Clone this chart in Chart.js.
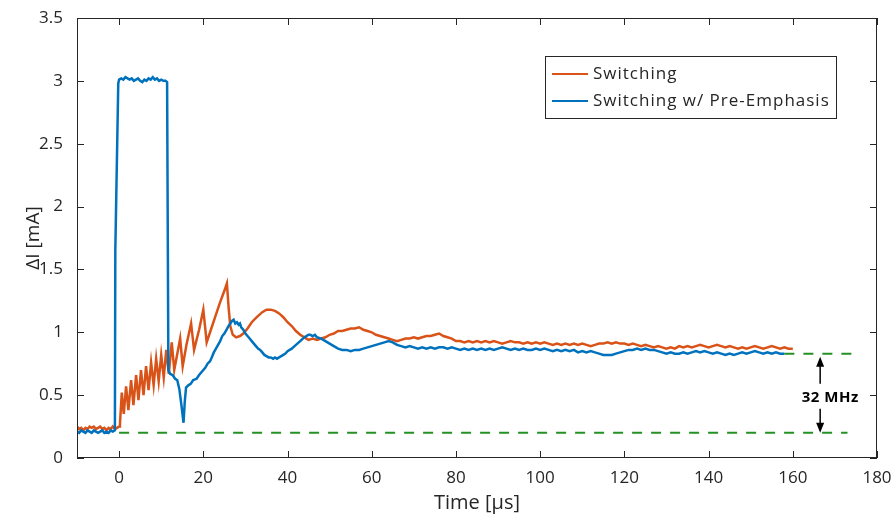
<!DOCTYPE html>
<html>
<head>
<meta charset="utf-8">
<title>Switching transient</title>
<script src="https://cdn.jsdelivr.net/npm/chart.js@4.4.1/dist/chart.umd.min.js"></script>
<style>
  html, body { margin: 0; padding: 0; background: #fff; }
</style>
</head>
<body>
<canvas id="chart" width="892" height="521"></canvas>
<script>
// time axis [us] and delta-I [mA]
const switchTime = [
  -10, -9.5, -9, -8.5, -8, -7.5, -7, -6.5, -6, -5.5, -5, -4.5, -4, -3.5, -3, -2.5, -2, -1.5, -1, -0.5, 0,
  0.2, 0.64, 1.1, 1.66, 2.2, 2.85, 3.4, 4.04, 4.6, 5.2, 5.8, 6.4, 7.0, 7.6, 8.2, 8.8, 9.4, 10.0, 10.6, 11.2, 11.8,
  12.5, 13.1, 14.5, 15.1, 16.0, 17.1, 17.8, 19.0, 20.0, 20.8, 21.8, 22.8, 24.0, 25.0, 25.6, 26.0, 26.4, 27.0, 27.8,
  28.7, 29.5, 30.5, 31.5, 32.7, 34, 35, 36, 37, 38, 39, 40, 41, 42, 43, 44, 45, 46, 47, 48, 49, 50,
  51, 52, 53, 54, 55, 56, 57, 58, 59, 60, 61, 62, 63, 64, 65, 66, 67, 68, 69, 70,
  71, 72, 73, 74, 75, 76, 77, 78, 79, 80, 81, 82, 83, 84, 85, 86, 87, 88, 89, 90,
  91, 92, 93, 94, 95, 96, 97, 98, 99, 100, 101, 102, 103, 104, 105, 106, 107, 108, 109, 110,
  111, 112, 113, 114, 115, 116, 117, 118, 119, 120, 121, 122, 123, 124, 125, 126, 127, 128, 129, 130,
  131, 132, 133, 134, 135, 136, 137, 138, 139, 140, 141, 142, 143, 144, 145, 146, 147, 148, 149, 150,
  151, 152, 153, 154, 155, 156, 157, 158, 159, 160
];
const switchValues = [
  0.25, 0.23, 0.24, 0.22, 0.24, 0.23, 0.25, 0.24, 0.25, 0.23, 0.24, 0.25, 0.23, 0.24, 0.22, 0.24, 0.23, 0.25, 0.23, 0.24, 0.25,
  0.27, 0.52, 0.35, 0.57, 0.38, 0.62, 0.42, 0.66, 0.46, 0.70, 0.50, 0.73, 0.54, 0.76, 0.58, 0.79, 0.61, 0.82, 0.64, 0.86, 0.67,
  0.92, 0.70, 0.95, 0.73, 0.90, 1.07, 0.86, 1.02, 1.18, 0.92, 1.02, 1.12, 1.24, 1.33, 1.39, 1.20, 1.05, 0.98, 0.96,
  0.97, 0.99, 1.03, 1.08, 1.12, 1.16, 1.18, 1.18, 1.17, 1.15, 1.12, 1.08, 1.05, 1.01, 0.98, 0.96, 0.94, 0.95, 0.94, 0.95, 0.96, 0.98,
  0.99, 1.01, 1.01, 1.02, 1.03, 1.03, 1.04, 1.02, 1.01, 1.00, 0.98, 0.97, 0.96, 0.95, 0.94, 0.93, 0.94, 0.95, 0.95, 0.96,
  0.95, 0.96, 0.97, 0.97, 0.98, 0.99, 0.97, 0.96, 0.95, 0.93, 0.93, 0.92, 0.93, 0.92, 0.93, 0.92, 0.93, 0.92, 0.93, 0.92,
  0.91, 0.92, 0.93, 0.92, 0.92, 0.91, 0.92, 0.91, 0.92, 0.91, 0.92, 0.91, 0.90, 0.91, 0.90, 0.91, 0.90, 0.91, 0.90, 0.91,
  0.90, 0.89, 0.90, 0.91, 0.91, 0.92, 0.91, 0.92, 0.91, 0.91, 0.90, 0.91, 0.90, 0.89, 0.90, 0.89, 0.88, 0.89, 0.88, 0.87,
  0.88, 0.87, 0.89, 0.88, 0.89, 0.88, 0.89, 0.90, 0.89, 0.88, 0.89, 0.90, 0.89, 0.88, 0.89, 0.88, 0.87, 0.88, 0.87, 0.88,
  0.89, 0.88, 0.87, 0.88, 0.89, 0.88, 0.87, 0.88, 0.87, 0.87
];

const preEmphTime = [
  -10, -9.5, -9, -8.5, -8, -7.5, -7, -6.5, -6, -5.5, -5, -4.5, -4, -3.5, -3, -2.5, -2, -1.5, -1.0, -0.9, -0.2, 0,
  0.5, 1, 1.5, 2, 2.5, 3, 3.5, 4, 4.5, 5, 5.5, 6, 6.5, 7, 7.5, 8, 8.5, 9, 9.5, 10, 10.5, 11, 11.4,
  11.7, 12.1, 12.7, 13.3, 13.8, 14.3, 14.8, 15.3, 15.6, 15.9, 16.5, 17, 17.6, 18.4, 19, 19.5, 20, 20.5, 21, 21.6,
  22, 22.5, 23, 23.5, 24, 24.5, 25, 25.5, 26, 26.4, 26.8, 27.2, 27.6, 28, 28.4, 28.7, 29, 29.5, 30, 30.5,
  31, 31.5, 32, 32.5, 33, 33.5, 34, 34.5, 35, 35.5, 36, 36.6, 37, 37.5, 38, 38.5, 39, 39.5, 40,
  41, 42, 43, 44, 45, 45.4, 46, 46.5, 47, 48, 49, 50, 51, 52, 53, 54, 55, 56, 57, 58, 59, 60,
  61, 62, 63, 64, 65, 66, 67, 68, 69, 70, 71, 72, 73, 74, 75, 76, 77, 78, 79, 80,
  81, 82, 83, 84, 85, 86, 87, 88, 89, 90, 91, 92, 93, 94, 95, 96, 97, 98, 99, 100,
  101, 102, 103, 104, 105, 106, 107, 108, 109, 110, 111, 112, 113, 114, 115, 116, 117, 118, 119, 120,
  121, 122, 123, 124, 125, 126, 127, 128, 129, 130, 131, 132, 133, 134, 135, 136, 137, 138, 139, 140,
  141, 142, 143, 144, 145, 146, 147, 148, 149, 150, 151, 152, 153, 154, 155, 156, 157, 158
];
const preEmphValues = [
  0.21, 0.20, 0.22, 0.21, 0.20, 0.22, 0.21, 0.20, 0.22, 0.21, 0.20, 0.21, 0.22, 0.20, 0.21, 0.20, 0.22, 0.21, 0.22, 1.65, 2.98, 3.01,
  3.02, 3.01, 3.03, 3.02, 3.01, 3.02, 3.00, 3.01, 3.02, 3.00, 2.99, 3.01, 3.00, 3.02, 3.01, 3.03, 3.01, 3.02, 3.00, 3.01, 3.00, 3.00, 2.99,
  0.70, 0.67, 0.66, 0.63, 0.62, 0.55, 0.42, 0.28, 0.45, 0.56, 0.58, 0.59, 0.62, 0.63, 0.66, 0.68, 0.70, 0.72, 0.75, 0.77,
  0.80, 0.84, 0.87, 0.90, 0.93, 0.97, 0.99, 1.02, 1.05, 1.07, 1.09, 1.10, 1.07, 1.08, 1.06, 1.07, 1.04, 1.02, 0.99, 0.97,
  0.95, 0.93, 0.91, 0.89, 0.87, 0.86, 0.84, 0.82, 0.81, 0.80, 0.80, 0.79, 0.80, 0.79, 0.80, 0.81, 0.82, 0.83, 0.85,
  0.87, 0.90, 0.93, 0.96, 0.98, 0.98, 0.97, 0.98, 0.96, 0.95, 0.93, 0.91, 0.89, 0.87, 0.86, 0.86, 0.85, 0.86, 0.86, 0.87, 0.88, 0.89,
  0.90, 0.91, 0.92, 0.93, 0.92, 0.90, 0.89, 0.88, 0.89, 0.88, 0.87, 0.88, 0.87, 0.88, 0.87, 0.88, 0.88, 0.87, 0.88, 0.87,
  0.86, 0.87, 0.86, 0.87, 0.86, 0.87, 0.86, 0.87, 0.86, 0.87, 0.88, 0.87, 0.86, 0.87, 0.86, 0.87, 0.86, 0.86, 0.87, 0.86,
  0.87, 0.86, 0.85, 0.86, 0.85, 0.86, 0.85, 0.86, 0.84, 0.85, 0.84, 0.85, 0.84, 0.83, 0.82, 0.82, 0.82, 0.83, 0.84, 0.85,
  0.86, 0.86, 0.87, 0.86, 0.87, 0.86, 0.86, 0.85, 0.84, 0.83, 0.84, 0.83, 0.83, 0.84, 0.83, 0.84, 0.85, 0.84, 0.85, 0.84,
  0.83, 0.84, 0.83, 0.82, 0.83, 0.82, 0.83, 0.84, 0.83, 0.84, 0.85, 0.84, 0.83, 0.84, 0.83, 0.84, 0.83, 0.83
];

// settled band (dashed green guides) and its label
const bandLevels = [0.20, 0.83];
const bandLowerSpan = [0, 173];
const bandUpperSpan = [158, 174.3];
const bandArrowX = 166.5;
const bandLabelY = 0.48;
const bandLabel = "32 MHz";

const xTicks = [0, 20, 40, 60, 80, 100, 120, 140, 160, 180];
const seriesNames = ["Switching", "Switching w/ Pre-Emphasis"];

const orange = "#D95319";
const blue = "#0072BD";
const green = "#259125";
const inkColor = "#262626";
const fontFamily = "'Open Sans', sans-serif";

const toPoints = (xs, ys) => xs.map((x, i) => ({ x: x, y: ys[i] }));

// box, inward ticks, legend and the band arrows, matlab style
const decorations = {
  id: "decorations",
  afterDraw(chart) {
    const ctx = chart.ctx;
    const area = chart.chartArea;
    const xs = chart.scales.x;
    const ys = chart.scales.y;
    const tick = 7;

    ctx.save();
    ctx.strokeStyle = inkColor;
    ctx.lineWidth = 1;
    ctx.strokeRect(area.left + 0.5, area.top + 0.5, area.right - area.left - 1, area.bottom - area.top - 1);

    ctx.beginPath();
    xTicks.forEach((v) => {
      const px = Math.round(xs.getPixelForValue(v)) + 0.5;
      ctx.moveTo(px, area.bottom);
      ctx.lineTo(px, area.bottom - tick);
      ctx.moveTo(px, area.top);
      ctx.lineTo(px, area.top + tick);
    });
    ys.ticks.forEach((t) => {
      const py = Math.round(ys.getPixelForValue(t.value)) + 0.5;
      ctx.moveTo(area.left, py);
      ctx.lineTo(area.left + tick, py);
      ctx.moveTo(area.right, py);
      ctx.lineTo(area.right - tick, py);
    });
    ctx.stroke();

    // legend
    const lx = area.right - 332;
    const ly = area.top + 38;
    ctx.fillStyle = "#fff";
    ctx.fillRect(lx, ly, 291, 62);
    ctx.strokeStyle = inkColor;
    ctx.strokeRect(lx + 0.5, ly + 0.5, 291, 62);
    ctx.font = "17px " + fontFamily;
    ctx.letterSpacing = "1px";
    ctx.textBaseline = "middle";
    ctx.textAlign = "left";
    [orange, blue].forEach((c, i) => {
      const rowY = ly + 18 + i * 27;
      ctx.strokeStyle = c;
      ctx.lineWidth = 2;
      ctx.beginPath();
      ctx.moveTo(lx + 7, rowY);
      ctx.lineTo(lx + 43, rowY);
      ctx.stroke();
      ctx.fillStyle = inkColor;
      ctx.fillText(seriesNames[i], lx + 48, rowY);
    });
    ctx.letterSpacing = "0px";

    // band arrows
    const ax = xs.getPixelForValue(bandArrowX);
    const top = ys.getPixelForValue(bandLevels[1]) + 3;
    const bottom = ys.getPixelForValue(bandLevels[0]);
    const mid = ys.getPixelForValue(bandLabelY);
    ctx.strokeStyle = "#000";
    ctx.fillStyle = "#000";
    ctx.lineWidth = 1.5;
    const arrow = (from, to) => {
      const dir = to > from ? 1 : -1;
      ctx.beginPath();
      ctx.moveTo(ax, from);
      ctx.lineTo(ax, to - dir * 8);
      ctx.stroke();
      ctx.beginPath();
      ctx.moveTo(ax, to);
      ctx.lineTo(ax - 4, to - dir * 10);
      ctx.lineTo(ax + 4, to - dir * 10);
      ctx.closePath();
      ctx.fill();
    };
    arrow(mid - 14, top);
    arrow(mid + 11, bottom);
    ctx.font = "bold 15px " + fontFamily;
    ctx.letterSpacing = "0.5px";
    ctx.textAlign = "center";
    ctx.fillText(bandLabel, xs.getPixelForValue(bandArrowX + 2.4), mid);
    ctx.restore();
  },
};

const ctx = document.getElementById("chart").getContext("2d");
new Chart(ctx, {
  type: "line",
  data: {
    datasets: [
      {
        label: seriesNames[1],
        data: toPoints(preEmphTime, preEmphValues),
        borderColor: blue,
        borderWidth: 2.5,
        pointRadius: 0,
        tension: 0,
        order: 1,
      },
      {
        label: seriesNames[0],
        data: toPoints(switchTime, switchValues),
        borderColor: orange,
        borderWidth: 2.5,
        pointRadius: 0,
        tension: 0,
        order: 2,
      },
      {
        label: "lower",
        data: toPoints(bandLowerSpan, [bandLevels[0], bandLevels[0]]),
        borderColor: green,
        borderWidth: 2,
        borderDash: [10, 9],
        pointRadius: 0,
        order: 3,
      },
      {
        label: "upper",
        data: toPoints(bandUpperSpan, [bandLevels[1], bandLevels[1]]),
        borderColor: green,
        borderWidth: 2,
        borderDash: [10, 9],
        pointRadius: 0,
        order: 3,
      },
    ],
  },
  options: {
    responsive: false,
    animation: false,
    layout: { padding: { top: 18, right: 15, left: 0, bottom: 0 } },
    plugins: {
      legend: { display: false },
      tooltip: { enabled: false },
    },
    scales: {
      x: {
        type: "linear",
        min: -10,
        max: 180,
        afterBuildTicks: (s) => {
          s.ticks = xTicks.map((v) => ({ value: v }));
        },
        afterFit: (s) => {
          s.height = 63;
          s.paddingLeft = 0;
          s.paddingRight = 0;
        },
        grid: { display: false, drawTicks: false },
        border: { display: false },
        ticks: {
          padding: 10,
          autoSkip: false,
          maxRotation: 0,
          color: inkColor,
          font: { family: fontFamily, size: 17 },
        },
        title: {
          display: true,
          text: "Time [μs]",
          color: inkColor,
          font: { family: fontFamily, size: 20 },
          padding: { top: 0, bottom: 6 },
        },
      },
      y: {
        min: 0,
        max: 3.5,
        afterFit: (s) => {
          s.width = 77;
          s.paddingTop = 0;
          s.paddingBottom = 0;
        },
        grid: { display: false, drawTicks: false },
        border: { display: false },
        ticks: {
          stepSize: 0.5,
          padding: 14,
          color: inkColor,
          font: { family: fontFamily, size: 17 },
          callback: (v) => String(v),
        },
        title: {
          display: true,
          text: "ΔI [mA]",
          color: inkColor,
          font: { family: fontFamily, size: 19 },
          padding: { top: 22, bottom: 0 },
        },
      },
    },
  },
  plugins: [decorations],
});
</script>
</body>
</html>
